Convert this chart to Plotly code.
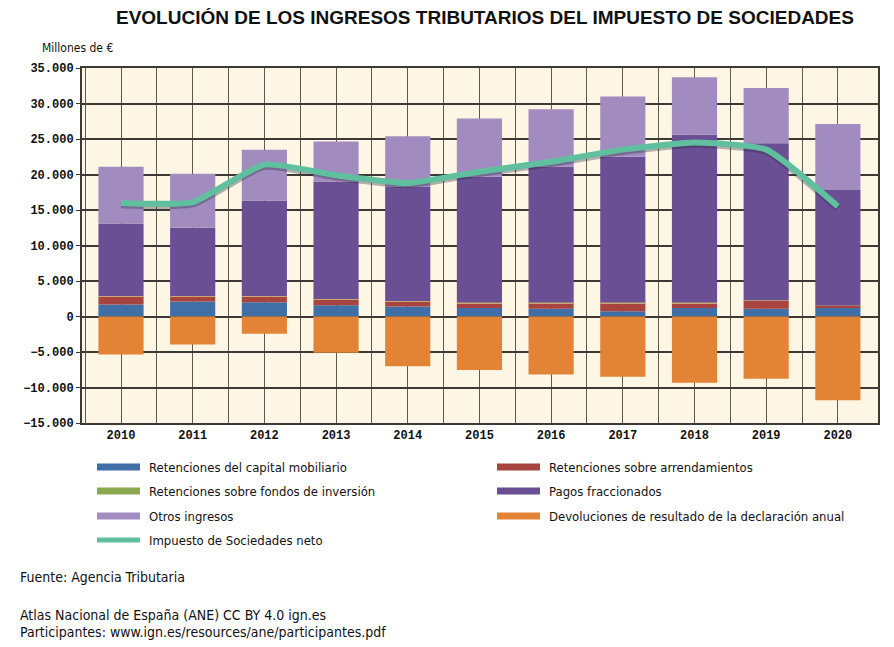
import plotly.graph_objects as go

years = [2010, 2011, 2012, 2013, 2014, 2015, 2016, 2017, 2018, 2019, 2020]

# millones de euros
ret_capital = [1700, 2100, 2000, 1600, 1400, 1200, 1100, 750, 1200, 1100, 1300]
ret_arrendamientos = [1150, 700, 800, 800, 700, 700, 800, 1150, 700, 1100, 200]
ret_fondos = [30, 80, 80, 80, 80, 80, 80, 80, 80, 80, 60]
pagos_fraccionados = [10220, 9620, 13420, 16520, 16120, 17720, 19120, 20520, 23620, 22120, 16240]
otros_ingresos = [8000, 7600, 7200, 5650, 7100, 8200, 8100, 8500, 8100, 7800, 9300]
devoluciones = [-5350, -3940, -2440, -5100, -7000, -7550, -8160, -8500, -9330, -8770, -11800]
is_neto = [16000, 16100, 21400, 19900, 18800, 20400, 21800, 23500, 24500, 23500, 15500]

y_ticks = [35000, 30000, 25000, 20000, 15000, 10000, 5000, 0, -5000, -10000, -15000]

title = "EVOLUCIÓN DE LOS INGRESOS TRIBUTARIOS DEL IMPUESTO DE SOCIEDADES"

series = [
    ("Retenciones del capital mobiliario", ret_capital, "#3f6fa6"),
    ("Retenciones sobre arrendamientos", ret_arrendamientos, "#a8443f"),
    ("Retenciones sobre fondos de inversión", ret_fondos, "#c9a878"),
    ("Pagos fraccionados", pagos_fraccionados, "#6b4f95"),
    ("Otros ingresos", otros_ingresos, "#a28cbf"),
    ("Devoluciones de resultado de la declaración anual", devoluciones, "#e28336"),
]
legend_colors = {
    "Retenciones sobre fondos de inversión": "#8ba84e",
}
line_color = "#5fbf9f"

# the page body has an 8px margin, so work in screen pixels and shift
OFF = 8
W, H = 894, 647
plot_left, plot_right, plot_top, plot_bottom = 82, 878, 68, 423
L = plot_left - OFF
T = plot_top - OFF
R = W - (plot_right - OFF)
B = H - (plot_bottom - OFF)
plot_w = plot_right - plot_left
plot_h = plot_bottom - plot_top


def px(x):
    return (x - plot_left) / plot_w


def py(y):
    return (plot_bottom - y) / plot_h


fig = go.Figure()
for name, vals, color in series:
    fig.add_trace(
        go.Bar(
            x=years,
            y=vals,
            name=name,
            marker=dict(color=color, line=dict(width=0)),
            width=0.63,
            showlegend=False,
        )
    )

fig.add_trace(
    go.Scatter(
        x=years,
        y=[v - 250 for v in is_neto],
        mode="lines",
        line=dict(color="rgba(40,40,60,0.35)", width=7, shape="spline", smoothing=0.5),
        hoverinfo="skip",
        showlegend=False,
    )
)
fig.add_trace(
    go.Scatter(
        x=years,
        y=is_neto,
        mode="lines",
        name="Impuesto de Sociedades neto",
        line=dict(color=line_color, width=6, shape="spline", smoothing=0.5),
        showlegend=False,
    )
)

grid = "#3d3a36"
tick_font = dict(family="Liberation Mono, DejaVu Sans Mono, monospace", size=12,
                 color="#111", weight="bold")
fig.update_layout(
    width=W,
    height=H,
    barmode="relative",
    separators=",.",
    paper_bgcolor="white",
    plot_bgcolor="#fdf6e4",
    margin=dict(l=L, r=R, t=T, b=B),
    font=dict(family="DejaVu Sans Condensed, DejaVu Sans, sans-serif", color="#111"),
    xaxis=dict(
        range=[2009.456, 2020.56],
        tickmode="array",
        tickvals=years,
        ticktext=[str(y) for y in years],
        tickfont=tick_font,
        showgrid=True,
        gridcolor="#5e5a54",
        gridwidth=1.2,
        minor=dict(tickvals=[y + 0.5 for y in years[:-1]] + [2009.5], showgrid=True,
                   gridcolor="#5e5a54", gridwidth=1.2),
        showline=True,
        linecolor=grid,
        linewidth=2,
        mirror=True,
        zeroline=False,
        ticks="",
    ),
    yaxis=dict(
        range=[-15000, 35000],
        tickmode="array",
        tickvals=y_ticks,
        tickformat=",d",
        tickfont=tick_font,
        showgrid=True,
        gridcolor=grid,
        gridwidth=1.8,
        showline=True,
        linecolor=grid,
        linewidth=2,
        mirror=True,
        zeroline=False,
        ticks="outside",
        ticklen=4,
        tickcolor=grid,
    ),
)


def note(x, y, text, size=12.5, anchor="left", family=None):
    font = dict(size=size, color="#111")
    if family:
        font["family"] = family
    return dict(x=px(x), y=py(y), xref="paper", yref="paper", text=text, showarrow=False,
                font=font, xanchor=anchor, yanchor="middle")


annotations = [
    note(485, 18, "<b>" + title + "</b>", size=19, anchor="center",
         family="Liberation Sans, Arial, sans-serif"),
    note(40, 48, "Millones de €", size=12),
    note(18, 577, "Fuente: Agencia Tributaria", size=14),
    note(18, 615, "Atlas Nacional de España (ANE) CC BY 4.0 ign.es", size=14),
    note(18, 632, "Participantes: www.ign.es/resources/ane/participantes.pdf", size=14),
]

legend_items = [(name, legend_colors.get(name, color)) for name, _, color in series]
legend_items.append(("Impuesto de Sociedades neto", line_color))
slots = [(97, 467), (497, 467), (97, 491), (497, 491), (97, 516), (497, 516), (97, 540)]

shapes = []
for (name, color), (sx, sy) in zip(legend_items, slots):
    hh = 2.5 if name == "Impuesto de Sociedades neto" else 3.5
    shapes.append(dict(type="rect", xref="paper", yref="paper",
                       x0=px(sx), x1=px(sx + 43), y0=py(sy + hh), y1=py(sy - hh),
                       fillcolor=color, line=dict(width=0)))
    annotations.append(note(sx + 50, sy, name, size=13))

fig.update_layout(annotations=annotations, shapes=shapes)
fig.write_html("out.html")
